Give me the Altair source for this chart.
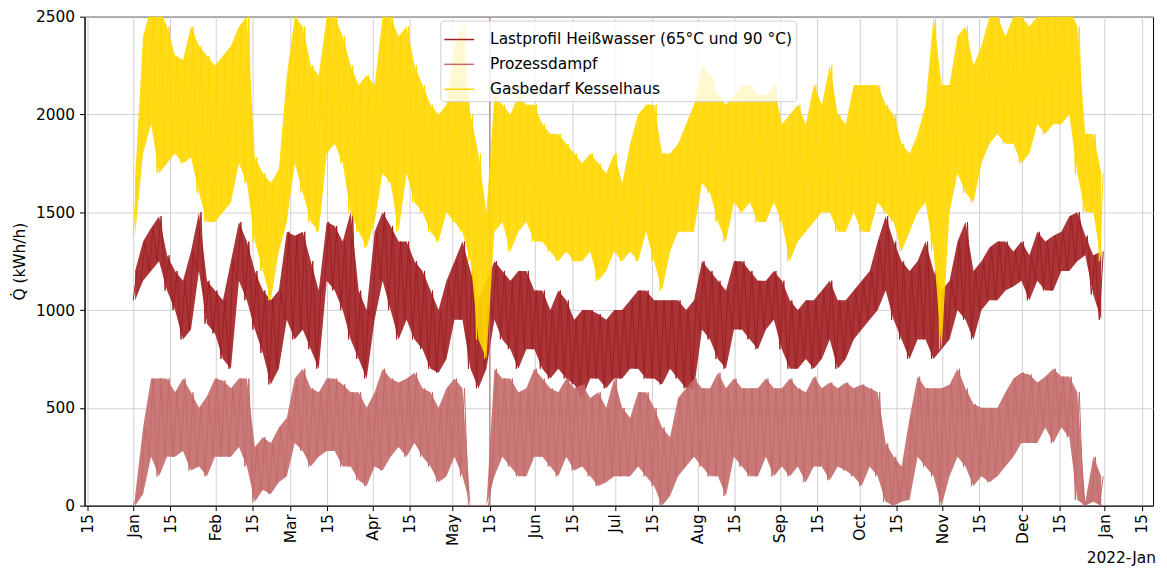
import altair as alt
import pandas as pd
import numpy as np

# ---------------- data (3-day blocks: low / high of each block) ----------
STEP_DAYS = 3
START = "2021-01-01"

series_names = ["Lastprofil Heißwasser (65°C und 90 °C)", "Prozessdampf", "Gasbedarf Kesselhaus"]
series_colors = ["#A01F22", "#C46A6A", "#FFD700"]

gas_low = [
    1380, 1800, 1950, 1700, 1750, 1800, 1750, 1780, 1600, 1450,
    1450, 1500, 1550, 1750, 1650, 1350, 1200, 1050, 1300, 1450,
    1750, 1600, 1450, 1400, 1800, 1850, 1750, 1500, 1400, 1320,
    1450, 1700, 1650, 1400, 1700, 1550, 1500, 1400, 1350, 1500,
    1450, 1400, 1250, 850, 750, 1400, 1450, 1300, 1400, 1450,
    1350, 1350, 1300, 1250, 1300, 1250, 1250, 1300, 1150, 1200,
    1300, 1250, 1300, 1250, 1400, 1250, 1100, 1300, 1400, 1400,
    1400, 1650, 1600, 1450, 1350, 1550, 1500, 1550, 1450, 1450,
    1550, 1450, 1250, 1350, 1400, 1450, 1500, 1500, 1400, 1400,
    1500, 1400, 1400, 1550, 1500, 1450, 1300, 1400, 1500, 1550,
    1300, 800, 1500, 1700, 1600, 1550, 1750, 1850, 1900, 1850,
    1850, 1750, 1800, 1950, 1900, 1950, 1950, 2000, 1700, 1500,
    1500, 1250,
]
gas_high = [
    1680, 2400, 2550, 2550, 2450, 2300, 2280, 2450, 2350, 2300,
    2250, 2300, 2350, 2450, 2500, 1780, 1700, 1650, 1720, 2200,
    2500, 2450, 2250, 2200, 2500, 2500, 2400, 2250, 2150, 2200,
    2150, 2500, 2500, 2400, 2450, 2250, 2150, 2050, 2000, 2050,
    2350, 2450, 2000, 1800, 1500, 2100, 2050, 2000, 2100, 2050,
    2050, 1950, 1900, 1900, 1850, 1800, 1750, 1800, 1750, 1700,
    1800, 1650, 1850, 2000, 2050, 2050, 1800, 1800, 1850, 1950,
    2050, 2250, 2200, 2100, 2050, 2100, 2150, 2150, 2100, 2100,
    2150, 1950, 2000, 2050, 1950, 2150, 2050, 2250, 2000, 1950,
    2150, 2150, 2150, 2150, 2050, 2000, 1850, 1800, 1900, 2050,
    2500, 2150, 2150, 2400, 2450, 2250, 2350, 2500, 2500, 2400,
    2500, 2500, 2450, 2500, 2500, 2500, 2550, 2550, 2450, 1900,
    1900, 1700,
]
hw_low = [
    1050, 1150, 1200, 1250, 1100, 1000, 850, 900, 1200, 930,
    880, 750, 700, 1150, 1050, 900, 780, 620, 700, 950,
    850, 900, 800, 700, 1150, 1100, 1000, 850, 750, 650,
    950, 1150, 1000, 850, 950, 850, 800, 700, 680, 750,
    950, 950, 700, 600, 700, 950, 850, 800, 700, 800,
    800, 700, 650, 700, 650, 620, 550, 650, 650, 600,
    650, 650, 700, 700, 650, 650, 620, 700, 650, 600,
    600, 900, 850, 750, 700, 900, 900, 850, 800, 900,
    950, 800, 700, 700, 750, 700, 750, 850, 700, 750,
    850, 900, 950, 1000, 1100, 950, 850, 750, 850, 850,
    750, 800, 850, 1000, 950, 850, 1000, 1050, 1050, 1100,
    1120, 1150, 1050, 1150, 1100, 1100, 1200, 1200, 1250, 1280,
    1080, 950,
]
hw_high = [
    1200, 1350, 1420, 1480, 1280, 1200, 1150, 1300, 1500, 1150,
    1100, 1050, 1250, 1450, 1350, 1200, 1100, 1050, 1100, 1400,
    1380, 1400, 1250, 1100, 1450, 1430, 1350, 1500, 1100, 1000,
    1400, 1500, 1430, 1350, 1350, 1250, 1200, 1100, 1000, 1150,
    1250, 1350, 1200, 1050, 1150, 1250, 1200, 1150, 1200, 1200,
    1100, 1100, 1000, 1100, 1050, 950, 1000, 1000, 980, 950,
    1000, 1000, 1050, 1100, 1100, 1050, 1050, 1050, 1050, 1000,
    1050, 1250, 1200, 1150, 1100, 1250, 1250, 1200, 1150, 1150,
    1200, 1150, 1050, 1000, 1050, 1050, 1100, 1150, 1050, 1050,
    1100, 1150, 1200, 1350, 1480, 1350, 1250, 1200, 1250, 1350,
    1200, 1100, 1150, 1350, 1450, 1200, 1250, 1320, 1350, 1350,
    1300, 1350, 1280, 1400, 1350, 1380, 1400, 1480, 1500, 1380,
    1280, 1300,
]
pd_low = [
    0, 60, 250, 150, 250, 250, 280, 180, 200, 150,
    250, 250, 250, 300, 200, 20, 80, 60, 120, 150,
    320, 280, 200, 250, 280, 280, 200, 200, 130, 100,
    200, 180, 250, 300, 250, 320, 250, 200, 120, 150,
    250, 150, 0, 0, 0, 150, 250, 200, 150, 150,
    250, 250, 200, 150, 250, 180, 200, 150, 100, 120,
    150, 150, 150, 200, 150, 100, 0, 50, 150, 200,
    250, 200, 150, 150, 50, 250, 200, 150, 150, 250,
    150, 200, 150, 200, 120, 200, 200, 130, 200, 180,
    150, 100, 200, 150, 20, 0, 20, 30, 250, 200,
    150, 0, 150, 250, 200, 100, 150, 120, 150, 200,
    250, 320, 320, 320, 400, 320, 400, 350, 30, 0,
    20, 0,
]
pd_high = [
    50, 400, 650, 650, 650, 580, 650, 580, 500, 560,
    650, 640, 600, 650, 650, 300, 350, 320, 400, 450,
    650, 700, 600, 580, 650, 650, 620, 580, 580, 500,
    580, 700, 650, 630, 650, 680, 600, 580, 500, 600,
    650, 600, 0, 0, 0, 700, 650, 650, 580, 600,
    700, 650, 600, 580, 650, 600, 620, 550, 580, 500,
    650, 500, 450, 580, 580, 500, 400, 350, 550, 600,
    650, 600, 600, 680, 600, 650, 600, 600, 600, 650,
    600, 600, 650, 600, 580, 660, 600, 630, 600, 630,
    600, 620, 600, 580, 320, 250, 200, 450, 660, 600,
    600, 600, 620, 700, 600, 520, 500, 500, 500, 580,
    650, 680, 670, 630, 660, 700, 660, 660, 580, 20,
    250, 150,
]

# isolated spikes (series, day of year, value)
spike_series = ["Prozessdampf"]
spike_days = [134]
spike_values = [2600]

tick_dates = [(2020, 12, 15), (2021, 1, 1), (2021, 1, 15), (2021, 2, 1), (2021, 2, 15),
              (2021, 3, 1), (2021, 3, 15), (2021, 4, 1), (2021, 4, 15), (2021, 5, 1),
              (2021, 5, 15), (2021, 6, 1), (2021, 6, 15), (2021, 7, 1), (2021, 7, 15),
              (2021, 8, 1), (2021, 8, 15), (2021, 9, 1), (2021, 9, 15), (2021, 10, 1),
              (2021, 10, 15), (2021, 11, 1), (2021, 11, 15), (2021, 12, 1), (2021, 12, 15),
              (2022, 1, 1), (2022, 1, 15)]
y_ticks = [0, 500, 1000, 1500, 2000, 2500]
offset_label = ["2022-Jan"]
y_title = "Q̇ (kWh/h)"

# ---------------- tables ----------------
start = pd.Timestamp(START)
FMT = "%Y-%m-%dT%H:%M:%S"


def zigzag(name, low, high):
    k = np.arange(len(low))
    t_lo = start + pd.to_timedelta(k * STEP_DAYS, unit="D")
    t_hi = start + pd.to_timedelta(k * STEP_DAYS + STEP_DAYS / 2, unit="D")
    return pd.DataFrame({
        "series": name,
        "t": np.ravel(np.column_stack([t_lo.strftime(FMT), t_hi.strftime(FMT)])),
        "v": np.ravel(np.column_stack([low, high])),
    })


def band(name, low, high):
    k = np.arange(len(low))
    t = start + pd.to_timedelta(k * STEP_DAYS + STEP_DAYS / 4, unit="D")
    return pd.DataFrame({"series": name, "t": t.strftime(FMT), "lo": low, "hi": high})


lows = [hw_low, pd_low, gas_low]
highs = [hw_high, pd_high, gas_high]

spike_df = pd.DataFrame({
    "series": spike_series,
    "t": (start + pd.to_timedelta(spike_days, unit="D")).strftime(FMT),
    "v": spike_values,
})

# ---------------- encodings ----------------
FONT = "DejaVu Sans"
FS = 15.5
x_scale = alt.Scale(domain=[alt.DateTime(year=2020, month=12, date=13, hours=18),
                            alt.DateTime(year=2022, month=1, date=19, hours=5)])
y_scale = alt.Scale(domain=[0, 2500], nice=False)

x_axis = alt.Axis(
    values=[alt.DateTime(year=y, month=m, date=d) for (y, m, d) in tick_dates],
    labelExpr="date(datum.value) == 1 ? timeFormat(datum.value, '%b') : timeFormat(datum.value, '%d')",
    labelAngle=-90, labelAlign="right", labelBaseline="middle", labelPadding=3,
    labelFlush=False, labelOverlap=False, title=None, grid=True, tickSize=5,
)
y_axis = alt.Axis(values=y_ticks, format="d", title=y_title, grid=True, tickSize=5,
                  labelPadding=5, titlePadding=8)

color_scale = alt.Scale(domain=series_names, range=series_colors)
legend = alt.Legend(
    title=None, orient="none", legendX=358, legendY=4, fillColor="rgba(255,255,255,0.8)",
    strokeColor="#d0d0d0", cornerRadius=3, padding=3, symbolType="stroke", symbolSize=900,
    symbolStrokeWidth=1.5, labelFontSize=FS, labelFont=FONT, labelColor="black",
    labelOffset=15, rowPadding=0, labelLimit=500, zindex=1,
)

X = alt.X("t:T", scale=x_scale, axis=x_axis)
layers = []
for name, color, lo, hi in zip(series_names, series_colors, lows, highs):
    layers.append(
        alt.Chart(band(name, lo, hi)).mark_area(clip=True, color=color, opacity=0.9).encode(
            x=X, y=alt.Y("lo:Q", scale=y_scale, axis=y_axis), y2="hi:Q")
    )
    layers.append(
        alt.Chart(zigzag(name, lo, hi)).mark_line(clip=True, strokeWidth=1).encode(
            x=X, y=alt.Y("v:Q", scale=y_scale, axis=y_axis),
            color=alt.Color("series:N", scale=color_scale, legend=legend))
    )
    sp = spike_df[spike_df["series"] == name]
    if len(sp):
        layers.append(
            alt.Chart(sp).mark_rule(clip=True, strokeWidth=1, color=color).encode(
                x=X, y=alt.Y("v:Q", scale=y_scale, axis=y_axis), y2=alt.datum(0))
        )

text_layer = alt.Chart(pd.DataFrame({"label": offset_label})).mark_text(
    align="right", baseline="alphabetic", fontSize=FS, font=FONT, color="black"
).encode(text="label:N", x=alt.value(1078), y=alt.value(550))
layers.append(text_layer)

chart = alt.layer(*layers).properties(
    width=1075, height=492,
    autosize=alt.AutoSizeParams(type="none"),
    padding={"left": 77, "top": 7, "right": 6, "bottom": 60},
).configure_view(stroke="black", strokeWidth=1).configure_axis(
    labelFont=FONT, labelFontSize=FS, labelColor="black", titleFont=FONT, titleFontSize=FS,
    titleFontWeight="normal", titleColor="black", domainColor="black", tickColor="black",
    gridColor="#d0d0d0", gridWidth=1,
)

chart.save("out.html", embed_options={"renderer": "svg", "actions": False})
